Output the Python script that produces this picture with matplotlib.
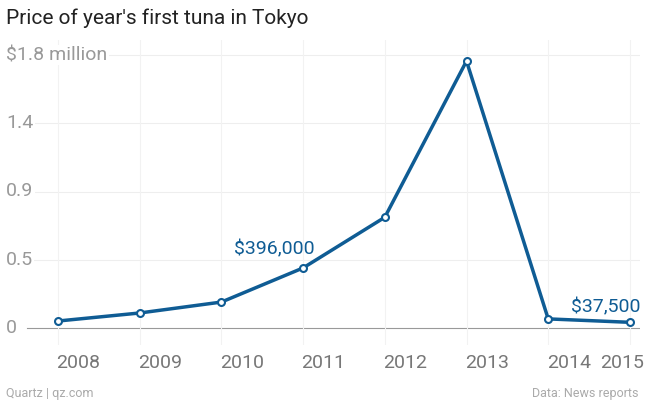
import matplotlib
matplotlib.use("Agg")
import matplotlib.pyplot as plt

years = [2008, 2009, 2010, 2011, 2012, 2013, 2014, 2015]
prices = [0.046, 0.099, 0.171, 0.396, 0.73, 1.76, 0.06, 0.0375]
ytick_vals = [0, 0.45, 0.9, 1.35, 1.8]
ytick_labels = ["0", "0.5", "0.9", "1.4", "$1.8 million"]
xtick_labels = ["2008", "2009", "2010", "2011", "2012", "2013", "2014", "2015"]
xtick_pos = [2008.25, 2009.25, 2010.25, 2011.25, 2012.25, 2013.25, 2014.25, 2014.9]

W, H = 645, 403
fig = plt.figure(figsize=(W/100, H/100), dpi=100)
ax = fig.add_axes([5/W, (H-345)/H, 635/W, (345-40)/H])
x0 = 2008 + (5-58)/81.7
x1 = 2008 + (640-58)/81.7
ax.set_xlim(x0, x1)
ppm = 273/1.8
ax.set_ylim(-17/ppm, (328-40)/ppm)
for s in ax.spines.values():
    s.set_visible(False)
ax.set_xticks([]); ax.set_yticks([])
for v, l in zip(ytick_vals, ytick_labels):
    if v == 0:
        ax.axhline(v, xmin=22/635, color="#999999", lw=0.8, zorder=0)
    else:
        ax.axhline(v, color="#eeeeee", lw=0.8, zorder=0)
    ax.text(2008 + (6-58)/81.7, v, l, fontsize=14, color="#999999", fontfamily="Roboto", va="center", ha="left",
            bbox=dict(facecolor="white", edgecolor="none", pad=1))
for y in years:
    ax.axvline(y, color="#f2f2f2", lw=0.8, zorder=0)
for p, l in zip(xtick_pos, xtick_labels):
    ax.text(p, -26/ppm, l, fontsize=14, color="#777777", fontfamily="Roboto", ha="center", va="top")
ax.plot(years, prices, color="#0f5c94", lw=2.5, marker="o", ms=5, mfc="white", mec="#0f5c94", mew=1.5, clip_on=False)
ax.text(2011 - 0.35, 0.396 + 10/ppm, "$396,000", fontsize=14, color="#0f5c94", fontfamily="Roboto", ha="center", va="bottom")
ax.text(2015 - 0.3, 0.0375 + 6/ppm, "$37,500", fontsize=14, color="#0f5c94", fontfamily="Roboto", ha="center", va="bottom")
fig.text(6/W, 1-18/H, "Price of year's first tuna in Tokyo", fontsize=15, color="#222222", fontfamily="Roboto", va="center")
fig.text(6/W, 1-393/H, "Quartz | qz.com", fontsize=9, color="#aaaaaa", fontfamily="Roboto", va="center")
fig.text(638/W, 1-393/H, "Data: News reports", fontsize=9, color="#aaaaaa", fontfamily="Roboto", va="center", ha="right")
fig.savefig("out.png", dpi=100)
